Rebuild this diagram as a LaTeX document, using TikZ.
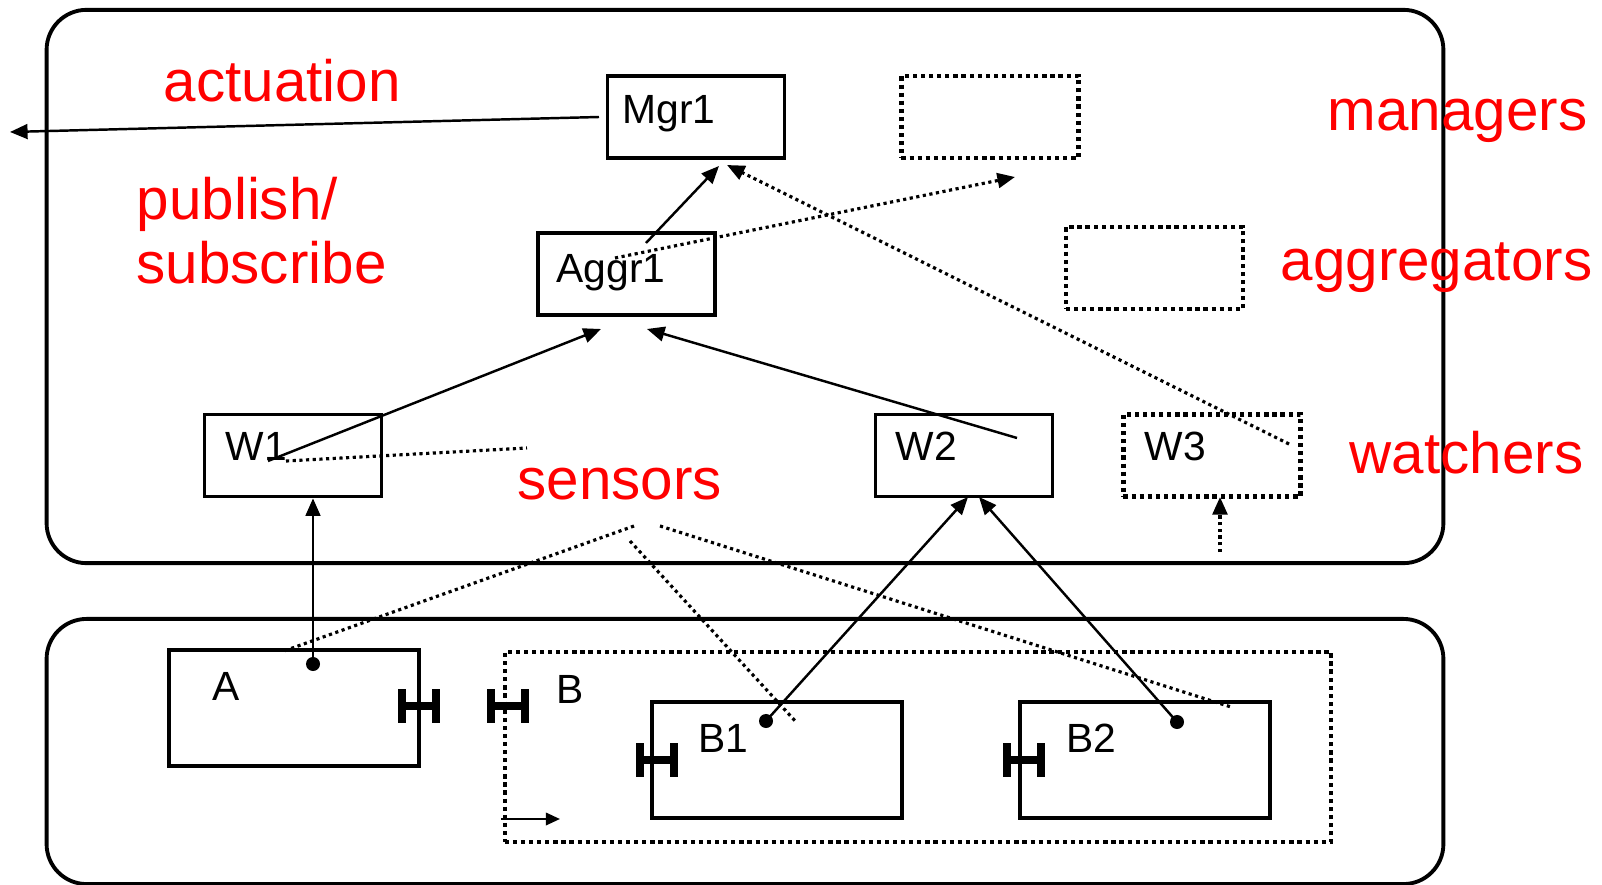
\documentclass[tikz,border=0pt]{standalone}
\usepackage{fontspec}
\setmainfont{Liberation Sans}
\usetikzlibrary{arrows.meta}

\begin{document}
\begin{tikzpicture}[
  x=0.01cm, y=-0.01cm,
  layer/.style={draw, line width=1.1pt, rounded corners=0.4cm, inner sep=0pt},
  box/.style={draw, line width=1.05pt, inner sep=0pt,
    minimum width=1.77cm, minimum height=0.82cm},
  dbox/.style={box, line width=1.2pt, dash pattern=on 1.2pt off 1.1pt},
  bigbox/.style={box, minimum width=2.5cm, minimum height=1.16cm},
  lbl/.style={font=\fontsize{11.6}{14}\selectfont, anchor=base west, inner sep=0pt},
  role/.style={font=\fontsize{16.6}{20}\selectfont, text=red, anchor=base west, inner sep=0pt},
  link/.style={line width=0.7pt, -{Triangle[length=5pt,width=4.2pt]}},
  dlink/.style={link, line width=0.9pt, dash pattern=on 0.9pt off 1pt},
  dline/.style={line width=0.9pt, dash pattern=on 0.9pt off 1pt},
  dot/.style={circle, fill, inner sep=0pt, minimum size=0.14cm}
]
  \useasboundingbox (0,0) rectangle (1602,885);

  % two layers
  \node[layer, minimum width=13.96cm, minimum height=5.53cm] (upper) at (745,286.5) {};
  \node[layer, minimum width=13.96cm, minimum height=2.65cm] (lower) at (745,751.5) {};

  % managers / aggregators / watchers
  \node[box]  (mgr)  at (696,117) {};
  \node[dbox] (mgrx) at (990,117) {};
  \node[box]  (aggr) at (626.5,274) {};
  \node[dbox] (aggrx) at (1154.5,268) {};
  \node[box]  (w1) at (293,455.5) {};
  \node[box]  (w2) at (964,455.5) {};
  \node[dbox] (w3) at (1212,455.5) {};
  \node[lbl] (mgrl)  at (622,124) {Mgr1};
  \node[lbl] (aggrl) at (556,283) {Aggr1};
  \node[lbl] (w1l) at (225,461) {W1};
  \node[lbl] (w2l) at (895,461) {W2};
  \node[lbl] (w3l) at (1144,461) {W3};

  % sensors
  \node[bigbox] (a) at (294,708) {};
  \node[dbox, minimum width=8.26cm, minimum height=1.9cm] (b) at (918,747) {};
  \node[bigbox] (b1) at (777,760) {};
  \node[bigbox] (b2) at (1145,760) {};
  \node[lbl] (al)  at (212,700) {A};
  \node[lbl] (bl)  at (556,703) {B};
  \node[lbl] (b1l) at (698,752) {B1};
  \node[lbl] (b2l) at (1066,752) {B2};

  % connectors on A, B, B1, B2
  \foreach \px/\py in {418.5/706, 507.5/706, 656.5/759.5, 1024/759.5} {
    \fill (\px-21,\py-17) rectangle (\px-13,\py+17);
    \fill (\px+13,\py-17) rectangle (\px+21,\py+17);
    \fill (\px-13,\py-4) rectangle (\px+13,\py+4);
  }

  % roles
  \node[role] (act)  at (163,102) {actuation};
  \node[role] (pub)  at (136,220) {publish/};
  \node[role] (sub)  at (136,284) {subscribe};
  \node[role] (mgrs) at (1327,131) {managers};
  \node[role] (aggs) at (1280,281) {aggregators};
  \node[role] (wats) at (1349,473) {watchers};
  \node[role] (sens) at (517,499) {sensors};

  % free ends
  \coordinate (mgrout) at (599,117);
  \coordinate (actend) at (10,132);
  \coordinate (aggrup) at (646,243);
  \coordinate (mgrin1) at (719,166);
  \coordinate (mgrin2) at (727,165);
  \coordinate (pubsrc) at (615,258);
  \coordinate (pubend) at (1015,177);
  \coordinate (w1src) at (268,461);
  \coordinate (w1dot) at (286,461);
  \coordinate (w1end) at (527,448);
  \coordinate (aggrin1) at (601,329);
  \coordinate (w2src) at (1017,438);
  \coordinate (aggrin2) at (647,329);
  \coordinate (w3src) at (1289,444);
  \coordinate (w3in) at (1220,497);
  \coordinate (w3low) at (1220,552);
  \coordinate (w2in1) at (968,497);
  \coordinate (w2in2) at (979,497);
  \coordinate (s1) at (634,526);
  \coordinate (s2) at (630,541);
  \coordinate (s3) at (660,526);
  \coordinate (sa) at (284,651);
  \coordinate (sb1) at (797,723);
  \coordinate (sb2) at (1231,707);
  \coordinate (bfrom) at (501,819);
  \coordinate (bto) at (560,819);

  \node[dot] (da)  at (313,664) {};
  \node[dot] (db1) at (766,721) {};
  \node[dot] (db2) at (1177,722) {};

  % solid links
  \draw[link] (mgrout) -- (actend);
  \draw[link] (aggrup) -- (mgrin1);
  \draw[link] (w1src) -- (aggrin1);
  \draw[link] (w2src) -- (aggrin2);
  \draw[link] (da.center) -- (da.center |- w1.south);
  \draw[link] (db1.center) -- (w2in1);
  \draw[link] (db2.center) -- (w2in2);
  \draw[line width=0.7pt, -{Triangle[length=4pt,width=3.5pt]}] (bfrom) -- (bto);

  % dotted links
  \draw[dlink] (pubsrc) -- (pubend);
  \draw[dlink] (w3src) -- (mgrin2);
  \draw[dlink] (w3low) -- (w3in);
  \draw[dline] (w1dot) -- (w1end);
  \draw[dline] (s1) -- (sa);
  \draw[dline] (s2) -- (sb1);
  \draw[dline] (s3) -- (sb2);
\end{tikzpicture}
\end{document}
